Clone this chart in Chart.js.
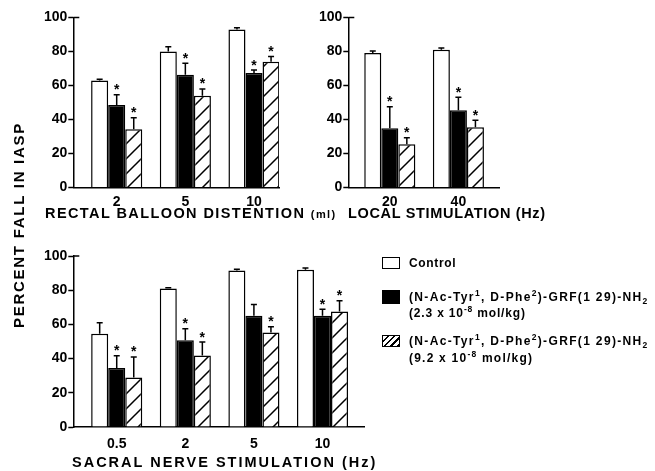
<!DOCTYPE html>
<html>
<head>
<meta charset="utf-8">
<script src="https://cdn.jsdelivr.net/npm/chart.js@4.4.1/dist/chart.umd.min.js"></script>
<style>
  body { margin: 0; width: 655px; height: 471px; overflow: hidden; position: relative; background: #fff;
         font-family: "Liberation Sans", Arial, sans-serif; font-weight: bold; color: #000; }
  canvas { position: absolute; }
  .t { position: absolute; white-space: nowrap; font-size: 14.5px; line-height: 16px; display: inline-block; }
  .u { font-size: 11px; }
  .lg { position: absolute; white-space: nowrap; font-size: 12px; line-height: 14px; display: inline-block; }
  .lg sup, .lg sub { font-size: 8.5px; line-height: 0; }
  .sw { position: absolute; box-sizing: border-box; width: 18px; }
</style>
</head>
<body>
<canvas id="c1" width="300" height="225" style="left:0;top:0"></canvas>
<canvas id="c2" width="220" height="225" style="left:300px;top:0"></canvas>
<canvas id="c3" width="390" height="220" style="left:0;top:235px"></canvas>

<div class="t" style="left:-111px;top:217px;width:260px;text-align:center;transform:rotate(-90deg)"><span id="tPctIn" style="font-size:15px">PERCENT FALL IN IASP</span></div>
<div class="t" id="tRbd" style="left:45px;top:205px">RECTAL BALLOON DISTENTION <span class="u">(ml)</span></div>
<div class="t" id="tLoc" style="left:348px;top:205px">LOCAL STIMULATION (Hz)</div>
<div class="t" id="tSns" style="left:72px;top:454px">SACRAL NERVE STIMULATION (Hz)</div>

<div class="sw" style="left:382px;top:257px;height:12px;border:1.5px solid #000;background:#fff"></div>
<div class="sw" style="left:382px;top:290px;height:14px;background:#000"></div>
<div class="sw" style="left:382px;top:335px;height:12px;border:1.5px solid #000;background:repeating-linear-gradient(135deg,#fff 0 3px,#000 3px 4.5px)"></div>

<div class="lg" id="lgC" style="left:409px;top:256px">Control</div>
<div class="lg" id="lgL1" style="left:409px;top:290px">(N-Ac-Tyr<sup>1</sup>, D-Phe<sup>2</sup>)-GRF(1 29)-NH<sub>2</sub></div>
<div class="lg" id="lgL2" style="left:409px;top:306px">(2.3 x 10<sup>-8</sup> mol/kg)</div>
<div class="lg" id="lgH1" style="left:409px;top:334px">(N-Ac-Tyr<sup>1</sup>, D-Phe<sup>2</sup>)-GRF(1 29)-NH<sub>2</sub></div>
<div class="lg" id="lgH2" style="left:409px;top:351px">(9.2 x 10<sup>-8</sup> mol/kg)</div>

<script>
// rectal balloon distention (ml)
const rbdLabels = ["2", "5", "10"];
const rbdControl = [63, 80, 93];
const rbdControlSem = [0.7, 2.8, 1];
const rbdLow = [48.5, 66.3, 67.3];
const rbdLowSem = [6, 6.8, 1.8];
const rbdHigh = [34.3, 54, 74];
const rbdHighSem = [6.7, 4, 3];
const rbdLowSig = [1, 1, 1];
const rbdHighSig = [1, 1, 1];

// local stimulation (Hz)
const locLabels = ["20", "40"];
const locControl = [79.1, 81.1];
const locControlSem = [1.2, 0.9];
const locLow = [34.8, 45.5];
const locLowSem = [12.7, 7.6];
const locHigh = [25.4, 35.5];
const locHighSem = [3.9, 4];
const locLowSig = [1, 1];
const locHighSig = [1, 1];

// sacral nerve stimulation (Hz)
const snsLabels = ["0.5", "2", "5", "10"];
const snsControl = [54.5, 81, 91.5, 92];
const snsControlSem = [6.5, 0.5, 0.8, 1];
const snsLow = [34.5, 50.8, 65, 65];
const snsLowSem = [7.2, 6.7, 6.7, 3.8];
const snsHigh = [29, 41.8, 55.3, 67.5];
const snsHighSem = [12, 7.9, 3.3, 6.4];
const snsLowSig = [1, 1, 0, 1];
const snsHighSig = [1, 1, 1, 1];

const yTicks = [0, 20, 40, 60, 80, 100];
const FONT = '"Liberation Sans", Arial, sans-serif';

function hatch() {
  const c = document.createElement("canvas");
  c.width = c.height = 15;
  const g = c.getContext("2d");
  g.fillStyle = "#fff";
  g.fillRect(0, 0, 15, 15);
  g.strokeStyle = "#000";
  g.lineWidth = 1.5;
  g.beginPath();
  g.moveTo(-2, 17); g.lineTo(17, -2);
  g.moveTo(-2, 2); g.lineTo(2, -2);
  g.moveTo(13, 17); g.lineTo(17, 13);
  g.stroke();
  return g.createPattern(c, "repeat");
}
const hatchFill = hatch();

// error whiskers, asterisks and the little stub at the top of the y axis
const whiskers = {
  id: "whiskers",
  afterDatasetsDraw(chart) {
    const { ctx, scales: { y }, chartArea } = chart;
    ctx.save();
    ctx.strokeStyle = "#000";
    ctx.fillStyle = "#000";
    ctx.lineWidth = 1.5;
    ctx.font = "bold 14px " + FONT;
    ctx.textAlign = "center";
    ctx.textBaseline = "alphabetic";
    chart.data.datasets.forEach((ds, i) => {
      chart.getDatasetMeta(i).data.forEach((bar, j) => {
        const top = y.getPixelForValue(ds.data[j].y + ds.sem[j]);
        ctx.beginPath();
        ctx.moveTo(bar.x, bar.y);
        ctx.lineTo(bar.x, top);
        ctx.moveTo(bar.x - 3, top);
        ctx.lineTo(bar.x + 3, top);
        ctx.stroke();
        if (ds.sig[j]) ctx.fillText("*", bar.x, top - 0.5);
      });
    });
    const t = y.getPixelForValue(100);
    ctx.beginPath();
    ctx.moveTo(chartArea.left, t);
    ctx.lineTo(chartArea.left + 6, t);
    ctx.stroke();
    ctx.restore();
  },
};

const pts = (vals) => vals.map((v, i) => ({ x: i, y: v }));

function panel(id, labels, control, controlSem, low, lowSem, lowSig, high, highSem, highSig, area) {
  const cv = document.getElementById(id);
  const W = cv.width, H = cv.height;
  return new Chart(cv, {
    type: "bar",
    data: {
      datasets: [
        { data: pts(control), sem: controlSem, sig: control.map(() => 0),
          backgroundColor: "#fff", borderColor: "#000", borderWidth: 1.5 },
        { data: pts(low), sem: lowSem, sig: lowSig,
          backgroundColor: "#000", borderColor: "#000", borderWidth: 1.5 },
        { data: pts(high), sem: highSem, sig: highSig,
          backgroundColor: hatchFill, borderColor: "#000", borderWidth: 1.5 },
      ],
    },
    options: {
      responsive: false,
      animation: false,
      categoryPercentage: 0.745,
      barPercentage: 1,
      layout: { padding: { left: 0, top: area.top, right: W - area.right, bottom: 0 } },
      plugins: { legend: { display: false }, tooltip: { enabled: false } },
      scales: {
        x: {
          type: "linear",
          offset: false,
          min: area.min,
          max: area.max,
          afterBuildTicks: (s) => { s.ticks = labels.map((_, i) => ({ value: i })); },
          afterFit: (s) => { s.height = H - area.bottom; },
          grid: { display: false, drawTicks: false },
          border: { display: true, color: "#000", width: 1.5 },
          ticks: {
            autoSkip: false, maxRotation: 0, padding: area.pad, color: "#000",
            font: { family: FONT, size: 14, weight: "bold" },
            callback: (v) => labels[v],
          },
        },
        y: {
          min: 0,
          max: 100,
          afterBuildTicks: (s) => { s.ticks = yTicks.map((v) => ({ value: v })); },
          afterFit: (s) => { s.width = area.left; },
          grid: { drawOnChartArea: false, drawTicks: true, tickLength: 5, tickWidth: 1.5, tickColor: "#000" },
          border: { display: true, color: "#000", width: 1.5 },
          ticks: { padding: 1, color: "#000", font: { family: FONT, size: 14, weight: "bold" } },
        },
      },
    },
    plugins: [whiskers],
  });
}

panel("c1", rbdLabels, rbdControl, rbdControlSem, rbdLow, rbdLowSem, rbdLowSig, rbdHigh, rbdHighSem, rbdHighSig,
  { left: 73.3, right: 279, top: 17.5, bottom: 187.5, min: -0.632, max: 2.364, pad: 6 });
panel("c2", locLabels, locControl, locControlSem, locLow, locLowSem, locLowSig, locHigh, locHighSem, locHighSig,
  { left: 48.3, right: 199, top: 17.5, bottom: 187.5, min: -0.605, max: 1.592, pad: 6 });
panel("c3", snsLabels, snsControl, snsControlSem, snsLow, snsLowSem, snsLowSig, snsHigh, snsHighSem, snsHighSig,
  { left: 73.3, right: 364, top: 21, bottom: 192, min: -0.633, max: 3.605, pad: 9 });

// stretch the spaced-out lettering to the widths seen in the figure
function fit(id, w) {
  const el = document.getElementById(id);
  const n = el.textContent.length - 1;
  el.style.letterSpacing = "0px";
  const w0 = el.offsetWidth;
  el.style.letterSpacing = Math.max(0, (w - w0) / n) + "px";
}
fit("tPctIn", 204);
fit("tRbd", 290);
fit("tLoc", 197);
fit("tSns", 303);
fit("lgC", 47);
fit("lgL1", 238);
fit("lgL2", 116);
fit("lgH1", 238);
fit("lgH2", 123);
</script>
</body>
</html>
